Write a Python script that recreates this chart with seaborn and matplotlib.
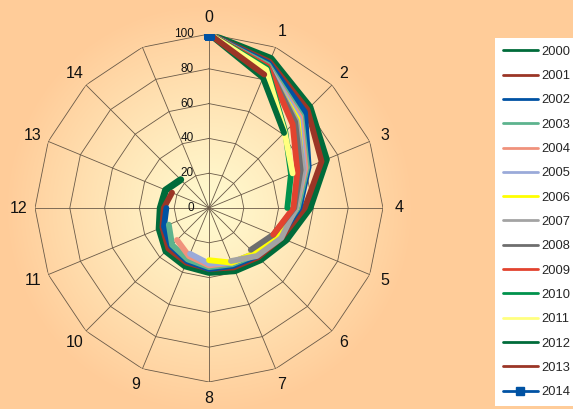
import numpy as np
import matplotlib
matplotlib.use('Agg')
import matplotlib.pyplot as plt
import matplotlib.transforms as mtransforms
from matplotlib.lines import Line2D
import seaborn as sns

# categories (16 spokes, the last one has no label)
categories = ['0', '1', '2', '3', '4', '5', '6', '7', '8', '9', '10', '11', '12', '13', '14', '']
rings = [0, 20, 40, 60, 80, 100]

# one cohort per year, each one point shorter than the previous
v2000 = [100, 93, 82, 73, 58, 48, 42, 39, 37, 36, 35, 31, 28, 27, 23]
v2001 = [100, 91, 80, 70, 55, 45, 40, 37, 35, 34, 33, 29, 26, 23]
v2002 = [100, 90, 78, 62, 52, 44, 39, 36, 35, 33, 31, 28, 24.5]
v2003 = [100, 89, 75, 61, 51, 43, 38, 35, 34, 32, 30, 25]
v2004 = [100, 88, 74, 60, 50, 42, 37, 34, 33, 30, 26]
v2005 = [100, 88, 73, 59, 50, 42, 37, 34, 32, 28.5]
v2006 = [100, 87, 72, 58, 50, 43, 37, 34, 30]
v2007 = [100, 88, 71, 58.5, 50, 45, 39, 33]
v2008 = [100, 88, 70, 57, 49, 40, 34]
v2009 = [100, 88, 68, 55, 48.5, 40]
v2010 = [100, 87, 62, 51, 45]
v2011 = [100, 86, 61.5, 52]
v2012 = [100, 81, 61]
v2013 = [100, 83]
v2014 = [100]

years = ['2000', '2001', '2002', '2003', '2004', '2005', '2006', '2007',
         '2008', '2009', '2010', '2011', '2012', '2013', '2014']
series = [v2000, v2001, v2002, v2003, v2004, v2005, v2006, v2007,
          v2008, v2009, v2010, v2011, v2012, v2013, v2014]
colors = ['#006B3A', '#9B3526', '#0052A3', '#5DB38E', '#F0927C', '#9AAAD9',
          '#FFFF00', '#A3A3A3', '#6E6E6E', '#E2432F', '#00924C', '#FFFF80',
          '#006B3A', '#9B3526', '#0052A3']

W, H = 573, 409
cx, cy, R = 209, 208, 174

sns.set_theme(style='white')
plt.rcParams['font.family'] = ['Liberation Sans', 'DejaVu Sans']

fig = plt.figure(figsize=(W / 100, H / 100), dpi=100)
fig.patch.set_facecolor('#FFCC99')

# radial gradient behind the chart
bg = fig.add_axes([0, 0, 1, 1], zorder=0)
yy, xx = np.mgrid[0:H, 0:W]
t = np.clip(np.hypot(xx - cx, yy - cy) / 205.0, 0, 1) ** 1.1
c0 = np.array([255, 251, 208]) / 255
c1 = np.array([255, 204, 153]) / 255
img = c0[None, None, :] * (1 - t[..., None]) + c1[None, None, :] * t[..., None]
bg.imshow(img, aspect='auto', interpolation='bilinear')
bg.axis('off')

ax = fig.add_axes([(cx - R) / W, 1 - (cy + R) / H, 2 * R / W, 2 * R / H],
                  projection='polar', zorder=1)
ax.patch.set_alpha(0)
ax.set_theta_zero_location('N')
ax.set_theta_direction(-1)
ax.set_ylim(0, 100)
ax.grid(False)
ax.set_xticks([])
ax.set_yticks([])
ax.spines['polar'].set_visible(False)

n = len(categories)
theta = np.arange(n) * 2 * np.pi / n
grid_col = '#6A5A48'

# polygon grid and spokes
closed = np.append(theta, theta[0])
for r in rings[1:]:
    ax.plot(closed, [r] * (n + 1), color=grid_col, lw=0.6, zorder=1)
for th in theta:
    ax.plot([th, th], [0, 100], color=grid_col, lw=0.6, zorder=1)

# ring labels
off = mtransforms.offset_copy(ax.transData, fig=fig, x=-15, y=0, units='dots')
for r in rings:
    ax.text(0, r, str(r), transform=off, ha='right', va='center',
            fontsize=8.5, color='#111111')

# category labels
for th, lab in zip(theta, categories):
    ax.text(th, 109.5, lab, ha='center', va='center', fontsize=11.5,
            color='#111111', clip_on=False)

# the cohort lines, drawn in order so later years sit on top
for yr, vals, col in zip(years, series, colors):
    k = len(vals)
    lw = 5.0 if yr == '2000' else 4.2
    if k == 1:
        sns.lineplot(x=theta[:1], y=vals, ax=ax, color=col, marker='s',
                     markersize=6.5, markeredgecolor=col, lw=lw, legend=False)
    else:
        sns.lineplot(x=theta[:k], y=vals, ax=ax, color=col, lw=lw, sort=False,
                     legend=False, solid_capstyle='round', solid_joinstyle='round')
ax.set_xlabel('')
ax.set_ylabel('')
ax.set_ylim(0, 100)

handles = []
for yr, col in zip(years, colors):
    if yr == '2014':
        handles.append(Line2D([], [], color=col, lw=2, marker='s', markersize=6))
    else:
        handles.append(Line2D([], [], color=col, lw=2))
leg = fig.legend(handles, years, loc='upper left',
                 bbox_to_anchor=(495 / W, 1 - 38 / H), frameon=True,
                 facecolor='white', edgecolor='white', framealpha=1,
                 fancybox=False, fontsize=9.3, handlelength=2.7,
                 handletextpad=0.25, labelspacing=0.95, borderpad=0.6,
                 borderaxespad=0)
leg.get_frame().set_linewidth(0)

fig.savefig('out.png', dpi=100, facecolor=fig.get_facecolor())
